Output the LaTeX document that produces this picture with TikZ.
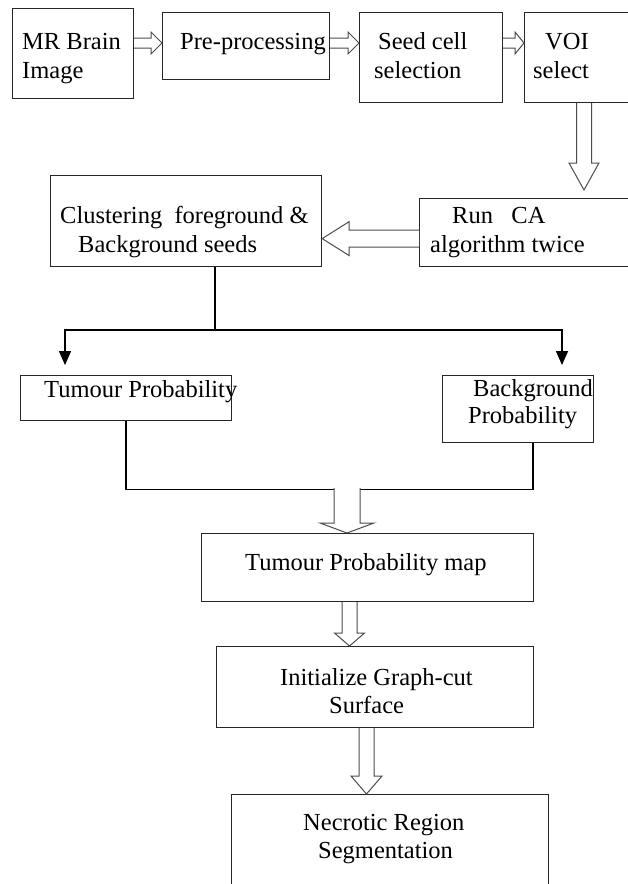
\documentclass[tikz,border=0pt]{standalone}
\usepackage{fontspec}
\setmainfont{Liberation Serif}
\usetikzlibrary{calc, arrows.meta}

% open block arrow: #1 start, #2 tip, #3 half shaft, #4 half head, #5 head length
\newcommand{\hollowarrow}[5]{%
  \coordinate (hb) at ($(#2)!#5!(#1)$);
  \draw[hollow] ($(#1)!#3!90:(#2)$) -- ($(hb)!#3!90:(#2)$) -- ($(hb)!#4!90:(#2)$) -- (#2)
    -- ($(hb)!#4!-90:(#2)$) -- ($(hb)!#3!-90:(#2)$) -- ($(#1)!#3!-90:(#2)$);
}

\begin{document}
\begin{tikzpicture}[x=1pt, y=-1pt,
    box/.style = {draw=black!85, line width=1.2pt, rectangle, anchor=north west, inner sep=0pt},
    txt/.style = {anchor=base west, inner sep=0pt, font=\fontsize{24.5}{29}\selectfont},
    hollow/.style = {draw=black!70, line width=1pt, fill=white},
    link/.style = {draw=black, line width=1.6pt},
    tip/.style = {-{Triangle[width=12pt, length=14pt]}}]

\useasboundingbox (0,0) rectangle (628,884);
\clip (0,0) rectangle (628,884);

% boxes
\node[box, minimum width=121pt, minimum height=90pt] (mr) at (12,8) {};
\node[box, minimum width=167pt, minimum height=67pt] (pre) at (162,12) {};
\node[box, minimum width=143pt, minimum height=90pt] (seed) at (359,12) {};
\node[box, minimum width=130pt, minimum height=90pt] (voi) at (524,12) {};
\node[box, minimum width=271pt, minimum height=91pt] (clus) at (50,175) {};
\node[box, minimum width=230pt, minimum height=68pt] (run) at (419,198) {};
\node[box, minimum width=211pt, minimum height=45pt] (tum) at (20,375) {};
\node[box, minimum width=151pt, minimum height=67pt] (bg) at (442,375) {};
\node[box, minimum width=332pt, minimum height=68pt] (map) at (201,533) {};
\node[box, minimum width=317pt, minimum height=81pt] (init) at (216,646) {};
\node[box, minimum width=317pt, minimum height=120pt] (nec) at (231,794) {};

% texts
\node[txt] (mr1) at (22,49) {MR Brain};
\node[txt] (mr2) at (22,78) {Image};
\node[txt] (pre1) at (180,49) {Pre-processing};
\node[txt] (seed1) at (378,49) {Seed cell};
\node[txt] (seed2) at (374,78) {selection};
\node[txt] (voi1) at (545,49) {VOI};
\node[txt] (voi2) at (533,78) {select};
\node[txt] (clus1) at (60,223) {Clustering~ foreground \&};
\node[txt] (clus2) at (78,252) {Background seeds};
\node[txt] (run1) at (452,223) {Run~~~CA};
\node[txt] (run2) at (430,252) {algorithm twice};
\node[txt] (tum1) at (44,397) {Tumour Probability};
\node[txt] (bg1) at (473,396) {Background};
\node[txt] (bg2) at (468,423) {Probability};
\node[txt] (map1) at (245,570) {Tumour Probability map};
\node[txt] (init1) at (280,685) {Initialize Graph-cut};
\node[txt] (init2) at (329,713) {Surface};
\node[txt] (nec1) at (303,830) {Necrotic Region};
\node[txt] (nec2) at (318,858) {Segmentation};

% block arrows
\coordinate (a1) at ($(mr.north east)+(0,35)$);
\coordinate (b1) at ($(pre.north west)+(0,31)$);
\hollowarrow{a1}{b1}{5pt}{11pt}{11pt}
\coordinate (a2) at ($(pre.north east)+(0,31)$);
\coordinate (b2) at ($(seed.north west)+(0,31)$);
\hollowarrow{a2}{b2}{5pt}{11pt}{11pt}
\coordinate (a3) at ($(seed.north east)+(0,31)$);
\coordinate (b3) at ($(voi.north west)+(0,31)$);
\hollowarrow{a3}{b3}{5pt}{11pt}{9pt}
\coordinate (a4) at ($(voi.south west)+(60,0)$);
\coordinate (b4) at ($(run.north west)+(165,-8)$);
\hollowarrow{a4}{b4}{7.5pt}{15pt}{27pt}
\coordinate (a5) at ($(run.west)+(0,6)$);
\coordinate (b5) at (clus.east |- a5);
\hollowarrow{a5}{b5}{8.5pt}{17pt}{27pt}

% split to the two probabilities
\coordinate (split) at ($(clus.south west)+(165,63)$);
\draw[link] ($(clus.south west)+(165,0)$) -- (split);
\draw[link, tip] (split) -| ($(tum.north west)+(45,-10)$);
\draw[link, tip] (split) -| ($(bg.north west)+(120,-10)$);

% merge
\draw[link, line width=1.3pt] ($(tum.south west)+(106,0)$) -- ++(0,68) -| ($(bg.south west)+(91,0)$);
\coordinate (a6) at ($(map.north west)+(146,-45)$);
\coordinate (b6) at ($(map.north west)+(146,0)$);
\hollowarrow{a6}{b6}{13pt}{27pt}{10pt}
\coordinate (a7) at ($(map.south west)+(148.5,0)$);
\coordinate (b7) at ($(init.north west)+(133.5,0)$);
\hollowarrow{a7}{b7}{7.5pt}{15pt}{13pt}
\coordinate (a8) at ($(init.south west)+(150.5,0)$);
\coordinate (b8) at ($(nec.north west)+(135.5,0)$);
\hollowarrow{a8}{b8}{7.5pt}{15.5pt}{18pt}

\end{tikzpicture}
\end{document}
